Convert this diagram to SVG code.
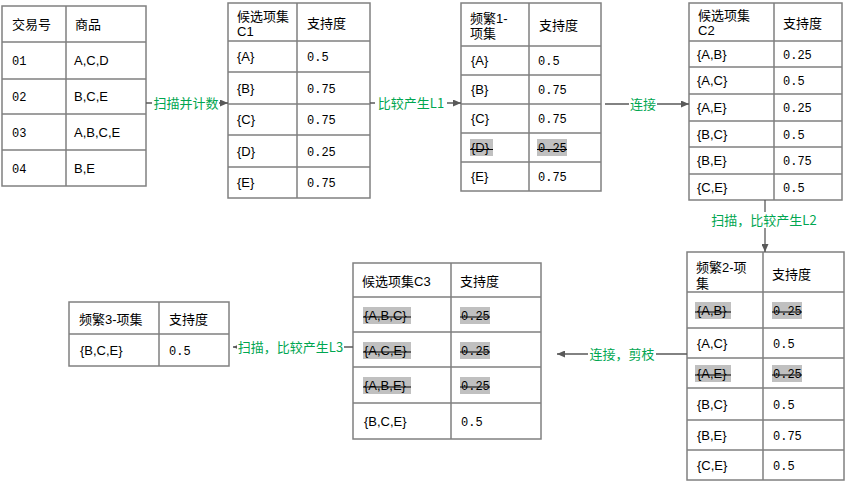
<svg xmlns="http://www.w3.org/2000/svg" width="847" height="483" viewBox="0 0 847 483">
<style>
.box{fill:#fff;stroke:#808080;stroke-width:1.5}
.gl{stroke:#808080;stroke-width:1.5}
.t{font-family:"Liberation Sans","Noto Sans CJK SC",sans-serif;font-size:13px;fill:#000}
.n{font-family:"Liberation Mono","DejaVu Sans Mono",monospace;font-size:12px;fill:#000}
.hl{fill:#c0c0c0}
.st{stroke:#000;stroke-width:1}
.conn{stroke:#595959;stroke-width:1.3;fill:none}
.lb{fill:#fff}
.lbl{font-family:"Noto Sans CJK SC","Liberation Sans",sans-serif;font-size:13px;fill:#00a650;text-anchor:middle}
</style>
<defs>
<marker id="arr" markerWidth="8" markerHeight="7" refX="8" refY="3.5" orient="auto" markerUnits="userSpaceOnUse">
<path d="M0,0 L8,3.5 L0,7 z" fill="#595959"/>
</marker>
</defs>

<g id="t-transactions">
<rect class="box" x="2" y="6" width="144" height="180"/>
<path class="gl" d="M66,6V186M2,42H146M2,79H146M2,114H146M2,150H146"/>
<text class="t" x="12" y="28.5">交易号</text><text class="t" x="75" y="28.5">商品</text>
<text class="n" x="12" y="65">01</text><text class="t" x="74" y="65">A,C,D</text>
<text class="n" x="12" y="101">02</text><text class="t" x="74" y="101">B,C,E</text>
<text class="n" x="12" y="136.5">03</text><text class="t" x="74" y="136.5">A,B,C,E</text>
<text class="n" x="12" y="172.5">04</text><text class="t" x="74" y="172.5">B,E</text>
</g>

<g id="t-c1">
<rect class="box" x="228" y="3" width="142" height="195"/>
<path class="gl" d="M297,3V198M228,41H370M228,72H370M228,104H370M228,135H370M228,167H370"/>
<text class="t" x="237" y="21">候选项集</text><text class="t" x="237" y="36">C1</text>
<text class="t" x="307" y="28">支持度</text>
<text class="t" x="237" y="61">{A}</text><text class="n" x="307" y="61">0.5</text>
<text class="t" x="237" y="92.5">{B}</text><text class="n" x="307" y="92.5">0.75</text>
<text class="t" x="237" y="124">{C}</text><text class="n" x="307" y="124">0.75</text>
<text class="t" x="237" y="155.5">{D}</text><text class="n" x="307" y="155.5">0.25</text>
<text class="t" x="237" y="187">{E}</text><text class="n" x="307" y="187">0.75</text>
</g>

<g id="t-l1">
<rect class="box" x="461" y="3" width="140" height="188"/>
<path class="gl" d="M529,3V191M461,46H601M461,75H601M461,104H601M461,133H601M461,162H601"/>
<text class="t" x="470" y="23">频繁1-</text><text class="t" x="470" y="38">项集</text>
<text class="t" x="539" y="30">支持度</text>
<text class="t" x="471" y="65">{A}</text><text class="n" x="538" y="65">0.5</text>
<text class="t" x="471" y="94">{B}</text><text class="n" x="538" y="94">0.75</text>
<text class="t" x="471" y="123">{C}</text><text class="n" x="538" y="123">0.75</text>
<rect class="hl" x="470" y="139" width="23" height="17"/><rect class="hl" x="537" y="139" width="30" height="17"/>
<text class="t" x="471" y="152">{D}</text><text class="n" x="538" y="152">0.25</text>
<path class="st" d="M470,149.5H493M537,149.5H567"/>
<text class="t" x="471" y="181">{E}</text><text class="n" x="538" y="181">0.75</text>
</g>

<g id="t-c2">
<rect class="box" x="689" y="3" width="153" height="197"/>
<path class="gl" d="M774,3V200M689,41H842M689,67H842M689,94H842M689,121H842M689,147H842M689,174H842"/>
<text class="t" x="698" y="20">候选项集</text><text class="t" x="698" y="35">C2</text>
<text class="t" x="783" y="28">支持度</text>
<text class="t" x="697" y="58.5">{A,B}</text><text class="n" x="783" y="58.5">0.25</text>
<text class="t" x="697" y="85">{A,C}</text><text class="n" x="783" y="85">0.5</text>
<text class="t" x="697" y="112">{A,E}</text><text class="n" x="783" y="112">0.25</text>
<text class="t" x="697" y="138.5">{B,C}</text><text class="n" x="783" y="138.5">0.5</text>
<text class="t" x="697" y="165">{B,E}</text><text class="n" x="783" y="165">0.75</text>
<text class="t" x="697" y="191.5">{C,E}</text><text class="n" x="783" y="191.5">0.5</text>
</g>

<g id="t-l2">
<rect class="box" x="687" y="252" width="157" height="228"/>
<path class="gl" d="M763,252V480M687,292H844M687,328H844M687,358H844M687,388H844M687,420H844M687,450H844"/>
<text class="t" x="696" y="272">频繁2-项</text><text class="t" x="696" y="288">集</text>
<text class="t" x="772" y="279">支持度</text>
<rect class="hl" x="695" y="302" width="36" height="17"/><rect class="hl" x="772" y="302" width="30" height="17"/>
<text class="t" x="697" y="314.5">{A,B}</text><text class="n" x="773" y="314.5">0.25</text>
<path class="st" d="M695,312H731M772,312H802"/>
<text class="t" x="697" y="347.5">{A,C}</text><text class="n" x="773" y="347.5">0.5</text>
<rect class="hl" x="695" y="365" width="36" height="17"/><rect class="hl" x="772" y="365" width="30" height="17"/>
<text class="t" x="697" y="377.5">{A,E}</text><text class="n" x="773" y="377.5">0.25</text>
<path class="st" d="M695,375H731M772,375H802"/>
<text class="t" x="697" y="408.5">{B,C}</text><text class="n" x="773" y="408.5">0.5</text>
<text class="t" x="697" y="439.5">{B,E}</text><text class="n" x="773" y="439.5">0.75</text>
<text class="t" x="697" y="469.5">{C,E}</text><text class="n" x="773" y="469.5">0.5</text>
</g>

<g id="t-c3">
<rect class="box" x="353" y="263" width="188" height="176"/>
<path class="gl" d="M451,263V439M353,297H541M353,332H541M353,367H541M353,403H541"/>
<text class="t" x="362" y="285.5">候选项集C3</text><text class="t" x="460" y="285.5">支持度</text>
<rect class="hl" x="363" y="307" width="48" height="17"/><rect class="hl" x="460" y="307" width="30" height="17"/>
<text class="t" x="364" y="319.5">{A,B,C}</text><text class="n" x="461" y="319.5">0.25</text>
<path class="st" d="M363,317H411M460,317H490"/>
<rect class="hl" x="363" y="342" width="48" height="17"/><rect class="hl" x="460" y="342" width="30" height="17"/>
<text class="t" x="364" y="354.5">{A,C,E}</text><text class="n" x="461" y="354.5">0.25</text>
<path class="st" d="M363,352H411M460,352H490"/>
<rect class="hl" x="363" y="377" width="48" height="17"/><rect class="hl" x="460" y="377" width="30" height="17"/>
<text class="t" x="364" y="389.5">{A,B,E}</text><text class="n" x="461" y="389.5">0.25</text>
<path class="st" d="M363,387H411M460,387H490"/>
<text class="t" x="364" y="425.5">{B,C,E}</text><text class="n" x="461" y="425.5">0.5</text>
</g>

<g id="t-l3">
<rect class="box" x="69" y="302" width="160" height="64"/>
<path class="gl" d="M159,302V366M69,334H229"/>
<text class="t" x="79" y="323.5">频繁3-项集</text><text class="t" x="169" y="323.5">支持度</text>
<text class="t" x="80" y="354.5">{B,C,E}</text><text class="n" x="169" y="354.5">0.5</text>
</g>

<g id="connectors">
<line class="conn" x1="146" y1="103" x2="228" y2="103" marker-end="url(#arr)"/>
<rect class="lb" x="152" y="95" width="67" height="16"/>
<text class="lbl" x="186" y="107.5">扫描并计数</text>

<line class="conn" x1="370" y1="103" x2="461" y2="103" marker-end="url(#arr)"/>
<rect class="lb" x="375" y="95" width="72" height="16"/>
<text class="lbl" x="411" y="107.5">比较产生L1</text>

<line class="conn" x1="605" y1="104" x2="689" y2="104" marker-end="url(#arr)"/>
<rect class="lb" x="629" y="96" width="28" height="16"/>
<text class="lbl" x="643" y="108.5">连接</text>

<line class="conn" x1="765" y1="200" x2="765" y2="252" marker-end="url(#arr)"/>
<rect class="lb" x="710" y="212" width="108" height="16"/>
<text class="lbl" x="764" y="224.5">扫描，比较产生L2</text>

<line class="conn" x1="687" y1="354" x2="557" y2="354" marker-end="url(#arr)"/>
<rect class="lb" x="588" y="346" width="68" height="16"/>
<text class="lbl" x="622" y="358.5">连接，剪枝</text>

<line class="conn" x1="353" y1="347" x2="233" y2="347" marker-end="url(#arr)"/>
<rect class="lb" x="237" y="339" width="107" height="16"/>
<text class="lbl" x="290.5" y="351.5">扫描，比较产生L3</text>
</g>
</svg>
